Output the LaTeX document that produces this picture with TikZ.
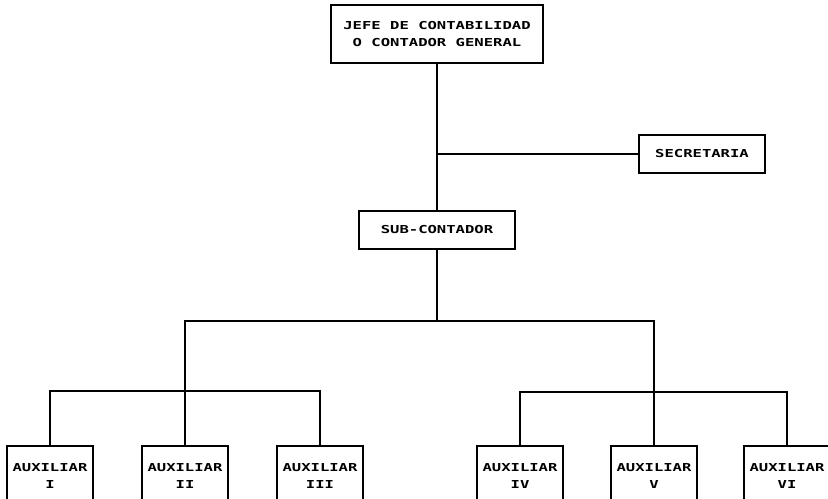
\documentclass[tikz,border=0pt]{standalone}
\usepackage{fontspec}
\usepackage{tikz}
\usetikzlibrary{positioning}
\newfontfamily\plotterfont{DejaVu Sans Mono}[FakeStretch=1.42]
\tikzset{
  orgbox/.style={
    draw=black,
    line width=2bp,
    align=center,
    inner sep=0pt,
    font=\plotterfont\bfseries\fontsize{11}{18}\selectfont
  },
  auxbox/.style={orgbox, minimum width=86bp, minimum height=60bp, anchor=north},
  orgline/.style={line width=2bp, draw=black}
}

\begin{document}
\begin{tikzpicture}[x=1bp,y=-1bp]
  \useasboundingbox (0,0) rectangle (828,499);
  \clip (0,0) rectangle (828,499);
  % head of the department
  \node[orgbox, minimum width=212bp, minimum height=58bp] (jefe) at (437,34)
    {JEFE DE CONTABILIDAD\\O CONTADOR GENERAL};
  \node[orgbox, minimum width=126bp, minimum height=38bp] (secre) at (702,154) {SECRETARIA};
  \node[orgbox, minimum width=156bp, minimum height=38bp, below=146bp of jefe] (sub) {SUB-CONTADOR};
  % assistants
  \node[auxbox] (aux1) at (50,445) {AUXILIAR\\I};
  \node[auxbox] (aux2) at (185,445) {AUXILIAR\\II};
  \node[auxbox] (aux3) at (320,445) {AUXILIAR\\III};
  \node[auxbox] (aux4) at (520,445) {AUXILIAR\\IV};
  \node[auxbox] (aux5) at (654,445) {AUXILIAR\\V};
  \node[auxbox] (aux6) at (787,445) {AUXILIAR\\VI};
  \coordinate[below=71bp of sub.south] (hub);
  \coordinate (barL) at (0,391);
  \coordinate (barR) at (0,392);
  \draw[orgline] (jefe) -- (sub);
  \draw[orgline] (secre.west) -- (secre.west -| jefe.south);
  \draw[orgline] (sub) -- (hub);
  \draw[orgline] (aux2.north) |- (hub) -| (aux5.north);
  \draw[orgline] (aux1.north) |- (aux2 |- barL) -| (aux3.north);
  \draw[orgline] (aux4.north) |- (aux5 |- barR) -| (aux6.north);
\end{tikzpicture}
\end{document}
